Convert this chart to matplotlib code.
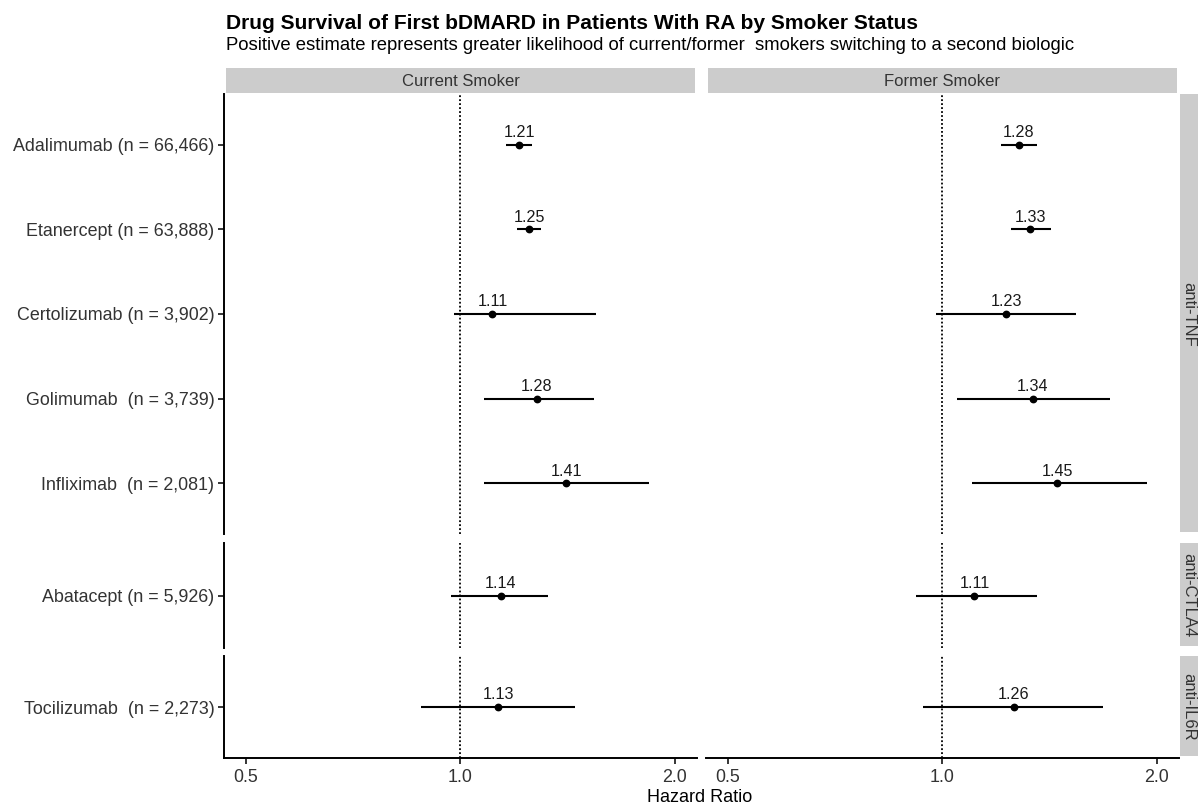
import matplotlib
matplotlib.use("Agg")
import matplotlib.pyplot as plt
from matplotlib.patches import Rectangle
from matplotlib.ticker import FixedLocator, NullLocator

plt.rcParams["font.family"] = ["Liberation Sans", "DejaVu Sans"]

# data
drugs = ["Adalimumab (n = 66,466)", "Etanercept (n = 63,888)", "Certolizumab (n = 3,902)",
         "Golimumab  (n = 3,739)", "Infliximab  (n = 2,081)", "Abatacept (n = 5,926)",
         "Tocilizumab  (n = 2,273)"]
drug_class = ["anti-TNF"] * 5 + ["anti-CTLA4", "anti-IL6R"]
classes = ["anti-TNF", "anti-CTLA4", "anti-IL6R"]
status = ["Current Smoker", "Former Smoker"]

current_hr = [1.21, 1.25, 1.11, 1.28, 1.41, 1.14, 1.13]
current_lo = [1.16, 1.20, 0.98, 1.08, 1.08, 0.97, 0.88]
current_hi = [1.26, 1.30, 1.55, 1.54, 1.84, 1.33, 1.45]
former_hr = [1.28, 1.33, 1.23, 1.34, 1.45, 1.11, 1.26]
former_lo = [1.21, 1.25, 0.98, 1.05, 1.10, 0.92, 0.94]
former_hi = [1.36, 1.42, 1.54, 1.72, 1.94, 1.36, 1.68]

x_ticks = [0.5, 1.0, 2.0]
x_ticklabels = ["0.5", "1.0", "2.0"]

W, H = 1198, 805
fig = plt.figure(figsize=(W / 100, H / 100), dpi=100)


def px_axes(x0, y0, x1, y1):
    """Add axes from pixel box (top-left origin)"""
    return fig.add_axes([x0 / W, 1 - y1 / H, (x1 - x0) / W, (y1 - y0) / H])


def px_rect(x0, y0, x1, y1, **kw):
    fig.patches.append(Rectangle((x0 / W, 1 - y1 / H), (x1 - x0) / W, (y1 - y0) / H,
                                 transform=fig.transFigure, **kw))


col_px = [(224, 697), (706, 1179)]
row_px = [(94, 534), (543, 648), (656, 758)]
series = [(current_hr, current_lo, current_hi), (former_hr, former_lo, former_hi)]
strip_grey = "#CCCCCC"
txt_grey = "#333333"

for c, (cx0, cx1) in enumerate(col_px):
    hr, lo, hi = series[c]
    for r, (ry0, ry1) in enumerate(row_px):
        ax = px_axes(cx0, ry0, cx1, ry1)
        idx = [i for i, k in enumerate(drug_class) if k == classes[r]]
        ypos = list(range(1, len(idx) + 1))
        ax.set_xscale("log")
        ax.set_xlim(0.466, 2.15)
        ax.set_ylim(len(idx) + 0.6, 0.4)
        ax.axvline(1.0, color="black", lw=1.3, ls=(0, (1, 1.2)), zorder=1)
        for y, i in zip(ypos, idx):
            ax.plot([lo[i], hi[i]], [y, y], color="black", lw=1.5, solid_capstyle="butt", zorder=2)
            ax.plot(hr[i], y, "o", color="black", ms=4.6, zorder=3)
            ax.annotate(f"{hr[i]:.2f}", (hr[i], y), xytext=(0, 5.5), textcoords="offset points",
                        ha="center", va="baseline", fontsize=11.6, color="#1a1a1a")
        for s in ["top", "right"]:
            ax.spines[s].set_visible(False)
        ax.spines["left"].set_linewidth(1.4)
        ax.spines["bottom"].set_linewidth(1.4)
        ax.xaxis.set_minor_locator(NullLocator())
        ax.xaxis.set_major_locator(FixedLocator(x_ticks))
        ax.tick_params(axis="both", length=4, width=1.1, colors="black", labelcolor=txt_grey,
                       labelsize=12.9, pad=3)
        ax.tick_params(axis="x", pad=4)
        if c == 0:
            ax.set_yticks(ypos)
            ax.set_yticklabels([drugs[i] for i in idx])
        else:
            ax.spines["left"].set_visible(False)
            ax.set_yticks([])
        if r == len(row_px) - 1:
            ax.set_xticklabels(x_ticklabels)
        else:
            ax.spines["bottom"].set_visible(False)
            ax.set_xticks([])
        ax.patch.set_alpha(0)

    # column strip
    px_rect(cx0 + 2, 68, cx1 - 2, 93, facecolor=strip_grey, edgecolor="none")
    fig.text((cx0 + cx1) / 2 / W, 1 - 81 / H, status[c], ha="center", va="center",
             fontsize=12, color=txt_grey)

# row strips (cut at figure edge)
for r, (ry0, ry1) in enumerate(row_px):
    px_rect(1180, ry0, 1210, ry1 - 2, facecolor=strip_grey, edgecolor="none")
    fig.text(1189 / W, 1 - (ry0 + ry1) / 2 / H, classes[r], ha="center", va="center",
             rotation=-90, fontsize=12, color=txt_grey)

fig.text(226 / W, 1 - 29 / H, "Drug Survival of First bDMARD in Patients With RA by Smoker Status",
         fontsize=15.1, fontweight="bold", ha="left", va="baseline", color="black")
fig.text(226 / W, 1 - 50 / H,
         "Positive estimate represents greater likelihood of current/former  smokers switching to a second biologic",
         fontsize=13.3, ha="left", va="baseline", color="black")
fig.text(700 / W, 1 - 797 / H, "Hazard Ratio", fontsize=13, ha="center", va="center", color="black")

fig.savefig("out.png", dpi=100)
